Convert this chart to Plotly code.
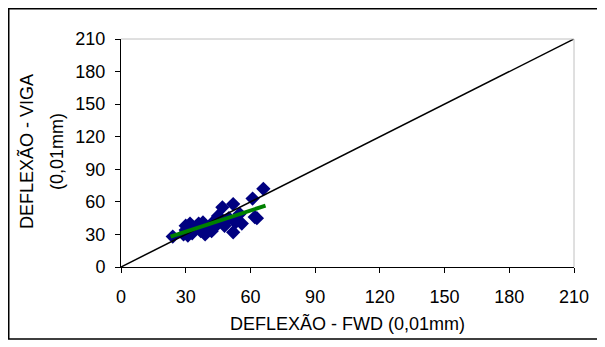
import plotly.graph_objects as go

# Data
fwd = [24, 29, 30, 30, 31, 32, 33, 34, 36, 37, 38, 39, 40, 41, 42, 43, 44, 45, 46, 47, 48, 50, 52, 52, 53, 55, 56, 61, 62, 63, 66]
viga = [28, 30, 34, 38, 29, 40, 31, 36, 40, 33, 41, 30, 35, 37, 33, 42, 38, 47, 44, 55, 38, 45, 58, 32, 41, 49, 40, 63, 46, 45, 72]
identity_x = [0, 210]
identity_y = [0, 210]
trend_x = [23, 67]
trend_y = [28, 56.5]
ticks = [0, 30, 60, 90, 120, 150, 180, 210]

FONT = "Liberation Sans, Arial, sans-serif"
FS = 18

# figure is shifted by the page's 8px body margin; compensate
W, H = 597, 339
L, R, T, B = 113, 31, 31, 80
PW, PH = W - L - R, H - T - B


def px(fx):
    return (fx - L) / PW


def py(fy):
    return (H - B - fy) / PH


fig = go.Figure()
fig.add_trace(go.Scatter(x=fwd, y=viga, mode="markers",
                         marker=dict(symbol="diamond", size=11, color="#000080"),
                         showlegend=False, cliponaxis=False))
fig.add_trace(go.Scatter(x=identity_x, y=identity_y, mode="lines",
                         line=dict(color="black", width=1.5), showlegend=False))
fig.add_trace(go.Scatter(x=trend_x, y=trend_y, mode="lines",
                         line=dict(color="#008000", width=4), showlegend=False))

axis_common = dict(range=[0, 210], tickvals=ticks, showgrid=False, zeroline=False,
                   showline=True, linecolor="black", linewidth=1,
                   ticks="outside", ticklen=5, tickcolor="black",
                   tickfont=dict(family=FONT, size=FS, color="black"))

fig.update_layout(
    width=W, height=H,
    margin=dict(l=L, r=R, t=T, b=B),
    paper_bgcolor="white", plot_bgcolor="white",
    font=dict(family=FONT, size=FS, color="black"),
    xaxis=dict(**axis_common, ticklabelstandoff=8),
    yaxis=dict(**axis_common, ticklabelstandoff=6),
    annotations=[
        dict(text="DEFLEXÃO - FWD (0,01mm)", xref="paper", yref="paper",
             x=px(339.5), y=py(315), xanchor="center", yanchor="middle",
             showarrow=False, font=dict(family=FONT, size=FS)),
        dict(text="DEFLEXÃO - VIGA", xref="paper", yref="paper",
             x=px(18), y=py(144), xanchor="center", yanchor="middle",
             textangle=-90, showarrow=False, font=dict(family=FONT, size=FS)),
        dict(text="(0,01mm)", xref="paper", yref="paper",
             x=px(49), y=py(144), xanchor="center", yanchor="middle",
             textangle=-90, showarrow=False, font=dict(family=FONT, size=FS)),
    ],
    shapes=[
        dict(type="line", xref="paper", yref="paper", x0=0, x1=1, y0=1, y1=1,
             line=dict(color="#c0c0c0", width=1)),
        dict(type="line", xref="paper", yref="paper", x0=1, x1=1, y0=0, y1=1,
             line=dict(color="#c0c0c0", width=1)),
        dict(type="rect", xref="paper", yref="paper",
             x0=px(0.75), x1=px(592), y0=py(331), y1=py(0.75),
             line=dict(color="black", width=1.5), fillcolor="rgba(0,0,0,0)"),
    ],
)

fig.write_html("out.html")
